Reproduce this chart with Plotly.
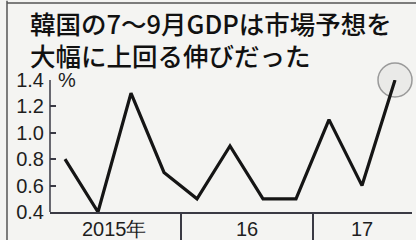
import plotly.graph_objects as go

# Quarterly GDP growth (q/q, %), 2015 Q1 .. 2017 Q3
quarters = ["2015Q1", "2015Q2", "2015Q3", "2015Q4",
            "2016Q1", "2016Q2", "2016Q3", "2016Q4",
            "2017Q1", "2017Q2", "2017Q3"]
growth = [0.8, 0.4, 1.3, 0.7, 0.5, 0.9, 0.5, 0.5, 1.1, 0.6, 1.4]
year_labels = ["2015年", "16", "17"]
year_first_idx = [0, 4, 8]
year_last_idx = [3, 7, 10]
y_ticks = [0.4, 0.6, 0.8, 1.0, 1.2, 1.4]
y_tick_text = ["0.4", "0.6", "0.8", "1.0", "1.2", "1.4"]
title_lines = ["韓国の7～9月GDPは市場予想を", "大幅に上回る伸びだった"]

xs = list(range(len(quarters)))
X_MIN, X_MAX = -0.4545, 10.515
AX = "#3a3a44"
TXT = "#1e1e1e"
NUMFONT = "Liberation Sans, Arial"

fig = go.Figure()

# highlight circle on the latest value
fig.add_trace(go.Scatter(
    x=[xs[-1]], y=[growth[-1]], mode="markers",
    marker=dict(size=34, color="rgba(215,215,215,0.35)",
                line=dict(color="#9a9a9a", width=1.5)),
    cliponaxis=False, hoverinfo="skip", showlegend=False))

fig.add_trace(go.Scatter(
    x=xs, y=growth, mode="lines",
    line=dict(color="#151515", width=3.2),
    cliponaxis=False, showlegend=False))

# year labels centred on their quarter groups
for lab, a, b in zip(year_labels, year_first_idx, year_last_idx):
    fig.add_annotation(x=(a + b) / 2, y=0, xref="x", yref="paper",
                       text=lab, showarrow=False, yanchor="middle",
                       yshift=-17, font=dict(size=20, color=TXT,
                                             family=NUMFONT))

# "%" unit label
fig.add_annotation(x=0, y=y_ticks[-1], xref="x domain", yref="y",
                   text="%", showarrow=False, xanchor="left",
                   xshift=6, font=dict(size=20, color=TXT, family=NUMFONT))

# title, two lines
for i, line in enumerate(title_lines):
    fig.add_annotation(x=-0.06, y=1.437 - i * 0.2424, xref="paper",
                       yref="paper", text=line, showarrow=False,
                       xanchor="left", yanchor="middle",
                       font=dict(size=25.5, color="#111", weight=500,
                                 family="Noto Sans CJK JP"))

# y axis line (from lowest to highest tick)
fig.add_shape(type="line", xref="x domain", yref="y",
              x0=0, x1=0, y0=y_ticks[0], y1=y_ticks[-1],
              line=dict(color=AX, width=1.5))

# frame: left and top rules
fig.add_shape(type="line", xref="paper", yref="paper",
              x0=-0.1188, x1=-0.1188, y0=-0.3, y1=1.6,
              line=dict(color="#555", width=1.5))
fig.add_shape(type="line", xref="paper", yref="paper",
              x0=-0.1188, x1=1.2, y0=1.583, y1=1.583,
              line=dict(color="#555", width=1.5))

fig.update_layout(
    width=416, height=240,
    margin=dict(l=50, r=4, t=80, b=28),
    paper_bgcolor="#f4f4f2", plot_bgcolor="rgba(0,0,0,0)",
    xaxis=dict(range=[X_MIN, X_MAX], showgrid=False, zeroline=False,
               automargin=False,
               showline=True, linecolor=AX, linewidth=1.5,
               tickvals=[year_last_idx[0] + 0.5, year_last_idx[1] + 0.5],
               ticks="outside", ticklen=30, tickwidth=1.5, tickcolor=AX,
               showticklabels=False),
    yaxis=dict(range=[0.4, 1.4], showgrid=False, zeroline=False,
               automargin=False,
               showline=False, tickvals=y_ticks, ticktext=y_tick_text,
               ticks="inside", ticklen=6, tickwidth=1.5, tickcolor=AX,
               ticklabelstandoff=5,
               tickfont=dict(size=20, color=TXT, family=NUMFONT)),
)

fig.write_html("out.html", config={"displayModeBar": False},
               post_script="document.body.style.margin='0';"
                           "document.body.style.background='#f4f4f2';")
